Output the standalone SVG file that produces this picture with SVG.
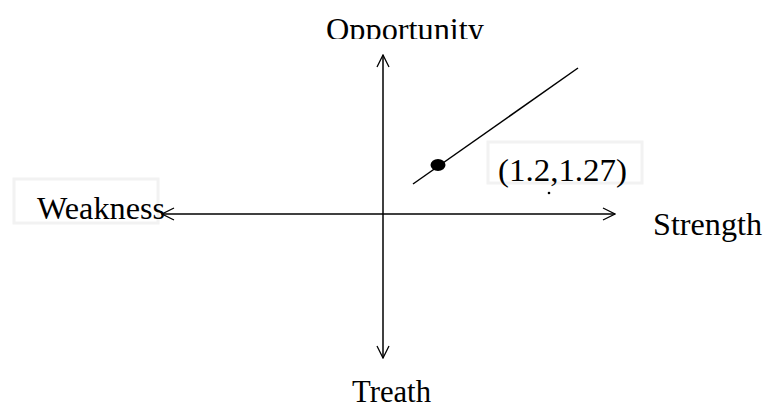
<svg xmlns="http://www.w3.org/2000/svg" width="763" height="409" viewBox="0 0 763 409">
<style>
text{font-family:"Liberation Serif","Times New Roman",serif;font-size:31px;fill:#000}
.ax{stroke:#000;stroke-width:1.5;fill:none}
.box{fill:none;stroke:#f2f2f2;stroke-width:3}
</style>
<defs>
<marker id="ah" viewBox="0 0 14 14" refX="13" refY="7" markerWidth="14" markerHeight="14" markerUnits="userSpaceOnUse" orient="auto">
<path d="M1,1 L13,7 L1,13" fill="none" stroke="#000" stroke-width="1.3"/>
</marker>
<clipPath id="clipTop"><rect x="0" y="0" width="763" height="39"/></clipPath>
</defs>
<g id="connectors">
<line class="ax" x1="383" y1="214" x2="383" y2="55" marker-end="url(#ah)"/>
<line class="ax" x1="383" y1="214" x2="383" y2="358" marker-end="url(#ah)"/>
<line class="ax" x1="383" y1="214" x2="162" y2="214" marker-end="url(#ah)"/>
<line class="ax" x1="383" y1="214" x2="615" y2="214" marker-end="url(#ah)"/>
<line class="ax" x1="413" y1="184" x2="578" y2="68"/>
</g>
<g id="point">
<ellipse cx="438" cy="165" rx="7.5" ry="6" fill="#000"/>
</g>
<g id="opportunity">
<text x="405" y="40" text-anchor="middle" textLength="158" lengthAdjust="spacingAndGlyphs" clip-path="url(#clipTop)">Opportunity</text>
</g>
<g id="weakness">
<rect class="box" x="14" y="179" width="144" height="44"/>
<text x="37" y="219" textLength="128" lengthAdjust="spacingAndGlyphs">Weakness</text>
</g>
<g id="strength">
<text x="653" y="235" textLength="109" lengthAdjust="spacingAndGlyphs">Strength</text>
</g>
<g id="treath">
<text x="352" y="402" font-size="29" textLength="79" lengthAdjust="spacingAndGlyphs">Treath</text>
</g>
<g id="coord">
<rect class="box" x="488" y="142" width="154" height="41"/>
<text x="498" y="181" textLength="129" lengthAdjust="spacingAndGlyphs">(1.2,1.27)</text>
<circle cx="549" cy="193" r="1.3" fill="#000"/>
</g>
</svg>
